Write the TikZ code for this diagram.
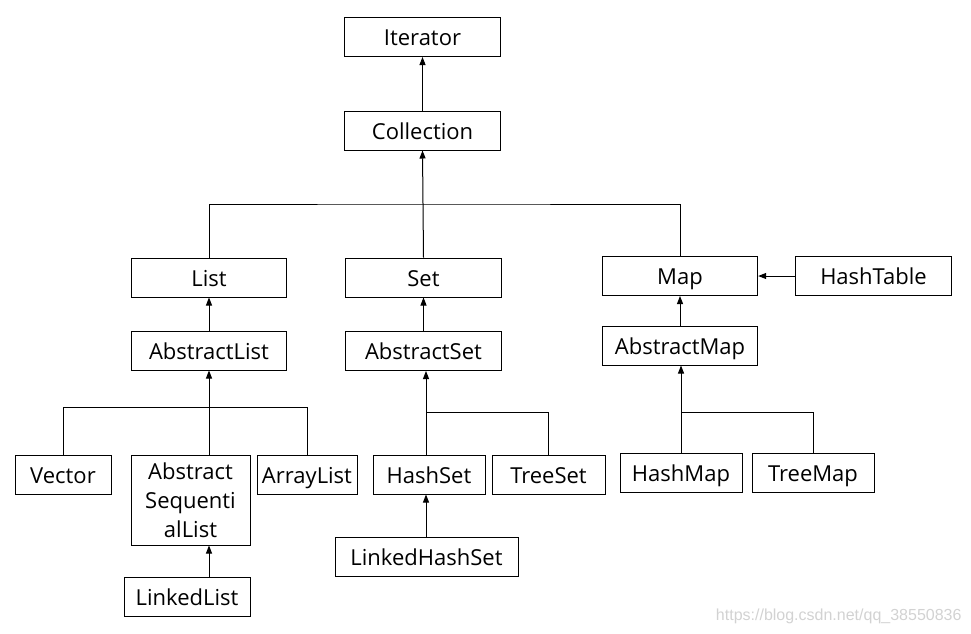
\documentclass[tikz,border=0pt]{standalone}
\usepackage{fontspec}
\setmainfont{Open Sans}
\newfontfamily\urlfont{Liberation Sans}
\usetikzlibrary{arrows.meta}
\begin{document}
\begin{tikzpicture}[x=0.75pt, y=-0.75pt, line width=0.75pt,
    every node/.style = {font=\fontsize{16.5pt}{21.75pt}\selectfont},
    tallbox/.style = {shape=rectangle, draw, align=center, inner sep=0pt,
      minimum height=29.25pt, minimum width=#1},
    box/.style = {tallbox=#1, text height=13pt, text depth=0pt},
    box/.default = 116.5pt,
    arr/.style = {-{Triangle[length=6pt, width=4.5pt]}}]
    \useasboundingbox (0,0) rectangle (971,633);
    \node[box] (iterator) at (422.5,37) {Iterator};
    \node[box] (collection) at (422.5,130.5) {Collection};
    \node[box] (list) at (209,277.5) {List};
    \node[box] (set) at (423.5,277.5) {Set};
    \node[box] (map) at (680,276) {Map};
    \node[box] (hashtable) at (873.5,276) {HashTable};
    \node[box] (abslist) at (209,350.5) {AbstractList};
    \node[box] (absset) at (423.5,351) {AbstractSet};
    \node[box] (absmap) at (680,345.5) {AbstractMap};
    \node[box=72pt] (vector) at (63,474.5) {Vector};
    \node[tallbox=89.25pt, minimum height=67.5pt] (absseq) at (190.5,500) {Abstract\\Sequenti\\alList};
    \node[box=75pt] (arraylist) at (307,474.5) {ArrayList};
    \node[box=84pt] (hashset) at (429,474.5) {HashSet};
    \node[box=84.75pt] (treeset) at (548.5,474.5) {TreeSet};
    \node[box=91.5pt] (hashmap) at (681,473) {HashMap};
    \node[box=91.5pt] (treemap) at (813,473) {TreeMap};
    \node[box=94.5pt] (linkedlist) at (187,597) {LinkedList};
    \node[box=137.25pt] (linkedhashset) at (426.5,557) {LinkedHashSet};
    \node[font=\fontsize{12pt}{14pt}\selectfont\urlfont, text=gray!35,
      anchor=base east, inner sep=0pt] (watermark) at (962,620) {https://blog.csdn.net/qq\_38550836};
    \coordinate (topbar) at (423,204);
    \coordinate (listbar) at (209,407);
    \coordinate (setbar) at (426,412);
    \coordinate (mapbar) at (681,412);
    \draw[arr] (collection) -- (iterator);
    \draw (list.north) |- (topbar) -| (map.north);
    \draw[arr] (set.north) -- (collection.south);
    \draw[arr] (hashtable) -- (map);
    \draw[arr] (abslist) -- (list);
    \draw[arr] (absset) -- (set);
    \draw[arr] (absmap) -- (map);
    \draw (vector.north) |- (listbar) -| (arraylist.north);
    \draw[arr] (listbar |- absseq.north) -- (abslist.south);
    \draw[arr] (linkedlist.north -| abslist.south) -- (absseq.south -| abslist.south);
    \draw[arr] (setbar |- hashset.north) -- (setbar |- absset.south);
    \draw (setbar) -| (treeset.north);
    \draw[arr] (linkedhashset.north -| setbar) -- (hashset.south -| setbar);
    \draw[arr] (mapbar |- hashmap.north) -- (mapbar |- absmap.south);
    \draw (mapbar) -| (treemap.north);
  \end{tikzpicture}
\end{document}
